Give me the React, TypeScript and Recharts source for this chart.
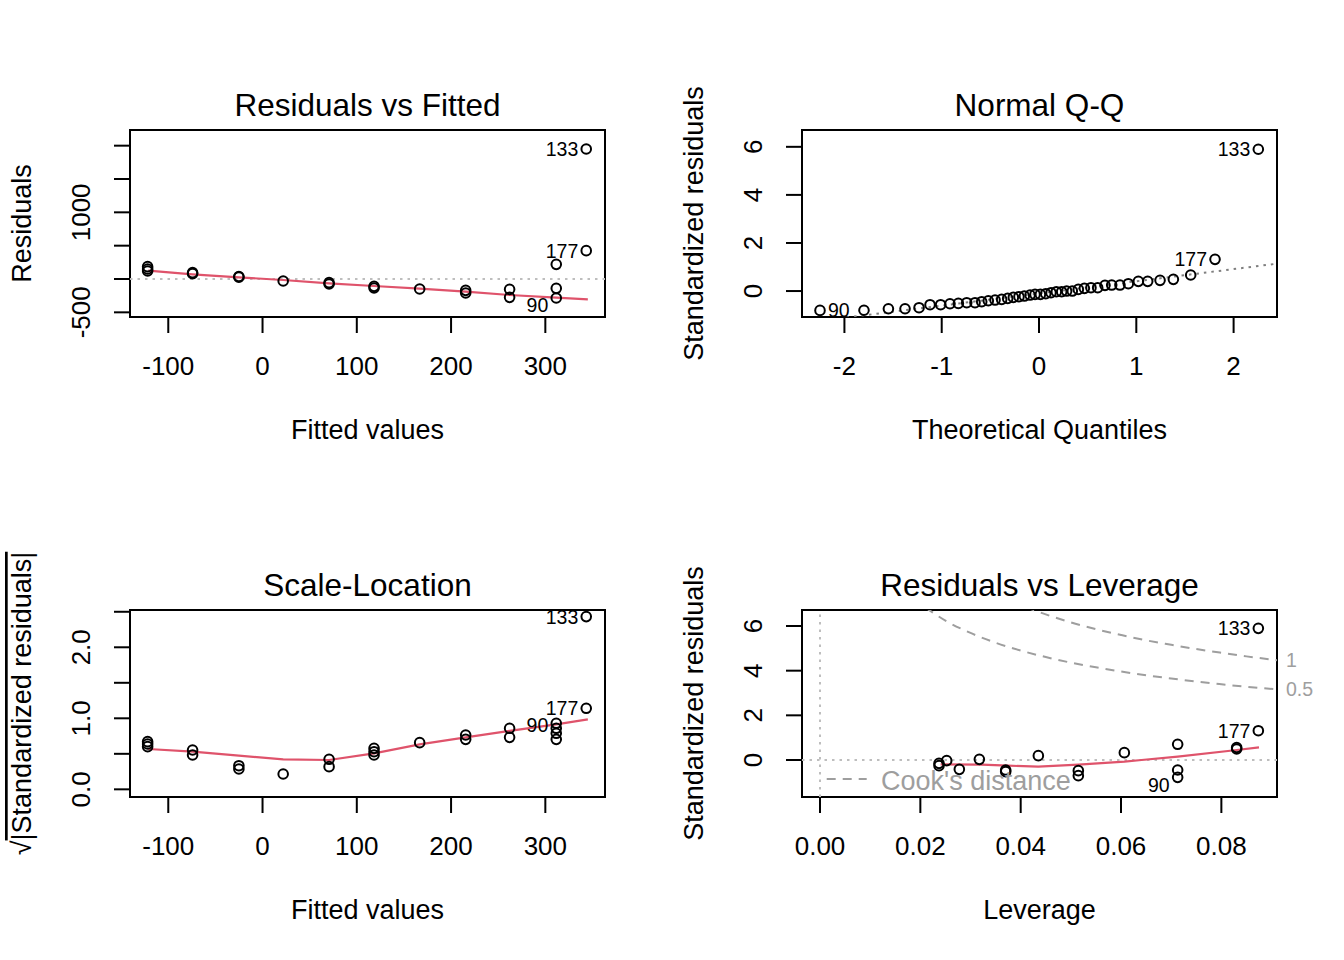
import React from 'react';
import { ComposedChart, Scatter, Line, XAxis, YAxis, ReferenceLine, ReferenceArea } from 'recharts';

const FONT = '"Liberation Sans", Arial, Helvetica, sans-serif';
const RED = '#DF536B';
const LIGHT_GRAY = '#BEBEBE';
const MID_GRAY = '#7F7F7F';
const COOK_GRAY = '#9E9E9E';

// ---------- Residuals vs Fitted ----------
const rvfFitted = [-121.9, -121.9, -121.9, -74.2, -74.2, -25.1, -25.1, 21.9, 70.6, 70.6, 118.3, 118.3, 166.7, 215.5, 215.5, 262.1, 262.1, 311.6, 311.6];
const rvfResid = [185, 150, 120, 95, 80, 37, 28, -30, -55, -75, -110, -135, -150, -170, -210, -155, -275, 220, -140];
const rvfIdFitted = [343.4, 343.4, 311.6];
const rvfIdResid = [1950, 425, -285];
const rvfSmoothX = [-121.2, -74.2, -25.1, 21.9, 70.6, 118.3, 166.7, 215.5, 262.1, 311.6, 345.1];
const rvfSmoothY = [125, 70, 25, -15, -65, -105, -145, -190, -240, -280, -305];
const rvfXTicks = [-100, 0, 100, 200, 300];
const rvfYTicks = [-500, 0, 500, 1000, 1500, 2000];
const rvfYShown = [-500, 1000];

// ---------- Normal Q-Q ----------
const qqTheo = [-1.799, -1.548, -1.377, -1.233, -1.12, -1.011, -0.915, -0.829, -0.743, -0.658, -0.589, -0.521, -0.452, -0.384, -0.322, -0.264, -0.206, -0.151, -0.092, -0.041, 0.014, 0.069, 0.123, 0.178, 0.233, 0.284, 0.342, 0.404, 0.466, 0.534, 0.603, 0.678, 0.747, 0.832, 0.918, 1.021, 1.117, 1.244, 1.381, 1.559];
const qqStd = [-0.8, -0.736, -0.736, -0.694, -0.569, -0.569, -0.528, -0.514, -0.486, -0.486, -0.444, -0.403, -0.375, -0.347, -0.306, -0.264, -0.236, -0.208, -0.167, -0.139, -0.139, -0.111, -0.069, -0.028, -0.028, 0, 0, 0.069, 0.111, 0.139, 0.139, 0.236, 0.25, 0.25, 0.306, 0.403, 0.403, 0.444, 0.486, 0.667];
const qqIdTheo = [2.254, 1.809, -2.251];
const qqIdStd = [5.9, 1.319, -0.806];
const qqLineX = [-2.436, 2.446];
const qqLineY = [-1.332, 1.139];
const qqXTicks = [-2, -1, 0, 1, 2];
const qqYTicks = [0, 2, 4, 6];

// ---------- Scale-Location ----------
const slFitted = [-121.9, -121.9, -121.9, -74.2, -74.2, -25.1, -25.1, 21.9, 70.6, 70.6, 118.3, 118.3, 118.3, 166.7, 215.5, 215.5, 262.1, 262.1, 311.6, 311.6, 311.6];
const slSqrt = [0.671, 0.638, 0.601, 0.554, 0.484, 0.333, 0.286, 0.216, 0.423, 0.319, 0.577, 0.53, 0.484, 0.657, 0.765, 0.704, 0.859, 0.732, 0.859, 0.789, 0.704];
const slIdFitted = [343.4, 343.4, 311.6];
const slIdSqrt = [2.432, 1.141, 0.93];
const slSmoothX = [-121.2, -74.2, -25.1, 21.9, 70.6, 118.3, 166.7, 215.5, 262.1, 311.6, 345.1];
const slSmoothY = [0.568, 0.531, 0.474, 0.423, 0.413, 0.507, 0.634, 0.732, 0.822, 0.915, 0.986];
const slYTicks = [0, 0.5, 1, 1.5, 2, 2.5];
const slYShown = [0, 1, 2];

// ---------- Residuals vs Leverage ----------
const lvLev = [0.02372, 0.02372, 0.02525, 0.02777, 0.03176, 0.03701, 0.03701, 0.04352, 0.05149, 0.05149, 0.06066, 0.07129, 0.07129, 0.08305, 0.08305];
const lvStd = [-0.254, -0.15, -0.03, -0.418, 0.03, -0.522, -0.448, 0.194, -0.478, -0.702, 0.328, 0.702, -0.448, 0.493, 0.56];
const lvIdLev = [0.08737, 0.08737, 0.07129];
const lvIdStd = [5.896, 1.313, -0.776];
const lvSmoothX = [0.02405, 0.0322, 0.0375, 0.0435, 0.0515, 0.0607, 0.0641, 0.0713, 0.0831, 0.0875];
const lvSmoothY = [-0.194, -0.209, -0.254, -0.299, -0.209, -0.075, 0, 0.149, 0.448, 0.567];
const cook1Lev = [0.041, 0.045, 0.05, 0.055, 0.06, 0.065, 0.07, 0.075, 0.08, 0.085, 0.0911];
const cook1Std = [6.84, 6.52, 6.16, 5.86, 5.6, 5.36, 5.16, 4.97, 4.8, 4.64, 4.47];
const cook05Lev = [0.021, 0.025, 0.03, 0.035, 0.04, 0.045, 0.05, 0.055, 0.06, 0.065, 0.07, 0.075, 0.08, 0.085, 0.0911];
const cook05Std = [6.83, 6.24, 5.69, 5.25, 4.9, 4.61, 4.36, 4.15, 3.96, 3.79, 3.65, 3.51, 3.39, 3.28, 3.16];
const cookLevels = ['1', '0.5'];
const cookLevelAt = [4.47, 3.16];
const lvXTicks = [0, 0.02, 0.04, 0.06, 0.08];
const lvYTicks = [0, 2, 4, 6];

const idLabels = ['133', '177', '90'];

// axis ranges
const rvfXDomain: [number, number] = [-140.6, 363.3];
const rvfYDomain: [number, number] = [-570, 2235];
const qqXDomain: [number, number] = [-2.436, 2.446];
const qqYDomain: [number, number] = [-1.08, 6.7];
const slYDomain: [number, number] = [-0.108, 2.525];
const lvXDomain: [number, number] = [-0.00359, 0.09109];
const lvYDomain: [number, number] = [-1.657, 6.717];

const TICK_FS = 26;
const AXIS_TITLE_FS = 27;
const TITLE_FS = 31.5;
const ID_FS = 19.5;
const PT_R = 4.8;
const PT_W = 2;

const zip = (xs: number[], ys: number[]) => xs.map((x, i) => ({ x, y: ys[i] }));
const zipId = (xs: number[], ys: number[]) => xs.map((x, i) => ({ x, y: ys[i], label: idLabels[i] }));

function makeXTick(fmt: (v: number) => string) {
  return (props: any) => {
    const { x, y, payload } = props;
    return (
      <text x={x} y={y} textAnchor="middle" fontFamily={FONT} fontSize={TICK_FS} fill="#000">
        {fmt(payload.value)}
      </text>
    );
  };
}

function makeYTick(fmt: (v: number) => string | null) {
  return (props: any) => {
    const { x, y, payload } = props;
    const s = fmt(payload.value);
    if (s === null) return <g />;
    return (
      <text x={x} y={y} transform={`rotate(-90 ${x} ${y})`} textAnchor="middle" fontFamily={FONT} fontSize={TICK_FS} fill="#000">
        {s}
      </text>
    );
  };
}

const cookTick = (props: any) => {
  const { x, y, index } = props;
  return (
    <text x={x} y={y} dominantBaseline="central" textAnchor="start" fontFamily={FONT} fontSize={ID_FS} fill={COOK_GRAY}>
      {cookLevels[index]}
    </text>
  );
};

const openCircle = (props: any) => (
  <circle cx={props.cx} cy={props.cy} r={PT_R} fill="none" stroke="#000" strokeWidth={PT_W} />
);

type LabStyle = { side: 'left' | 'right'; dy: number };
function makeIdShape(styles: Record<string, LabStyle>) {
  return (props: any) => {
    const { cx, cy, payload } = props;
    const st = styles[payload.label] || { side: 'left', dy: 0 };
    const left = st.side === 'left';
    return (
      <g>
        <circle cx={cx} cy={cy} r={PT_R} fill="none" stroke="#000" strokeWidth={PT_W} />
        <text
          x={left ? cx - 8 : cx + 8}
          y={cy + st.dy}
          dominantBaseline="central"
          textAnchor={left ? 'end' : 'start'}
          fontFamily={FONT}
          fontSize={ID_FS}
          fill="#000"
        >
          {payload.label}
        </text>
      </g>
    );
  };
}

function xAxisProps(domain: [number, number], ticks: number[], fmt: (v: number) => string) {
  return {
    type: 'number' as const,
    dataKey: 'x',
    domain,
    ticks,
    allowDataOverflow: true,
    interval: 0 as const,
    height: 163,
    tickSize: 16,
    tickMargin: 41.5,
    stroke: '#000',
    axisLine: false,
    tickLine: { stroke: '#000', strokeWidth: 2 },
    tick: makeXTick(fmt),
  };
}

function yAxisProps(domain: [number, number], ticks: number[], fmt: (v: number) => string | null) {
  return {
    type: 'number' as const,
    dataKey: 'y',
    domain,
    ticks,
    allowDataOverflow: true,
    interval: 0 as const,
    width: 130,
    tickSize: 16,
    tickMargin: 24,
    stroke: '#000',
    axisLine: false,
    tickLine: { stroke: '#000', strokeWidth: 2 },
    tick: makeYTick(fmt),
  };
}

const MARGIN = { top: 130, right: 67, bottom: 0, left: 0 };

function Overlay({ title, xTitle, yTitle, extra }: { title: string; xTitle: string; yTitle: React.ReactNode; extra?: React.ReactNode }) {
  return (
    <svg width={672} height={480} style={{ position: 'absolute', left: 0, top: 0, pointerEvents: 'none', overflow: 'visible' }}>
      <text x={367.5} y={116} textAnchor="middle" fontFamily={FONT} fontSize={TITLE_FS} fill="#000">
        {title}
      </text>
      <text x={367.5} y={439} textAnchor="middle" fontFamily={FONT} fontSize={AXIS_TITLE_FS} fill="#000">
        {xTitle}
      </text>
      <text transform="translate(31 223.5) rotate(-90)" textAnchor="middle" fontFamily={FONT} fontSize={AXIS_TITLE_FS} fill="#000">
        {yTitle}
      </text>
      {extra}
    </svg>
  );
}

function Panel1() {
  return (
    <div style={{ position: 'absolute', left: 0, top: 0, width: 672, height: 480 }}>
      <ComposedChart width={672} height={480} margin={MARGIN}>
        <XAxis {...xAxisProps(rvfXDomain, rvfXTicks, (v) => String(v))} />
        <YAxis {...yAxisProps(rvfYDomain, rvfYTicks, (v) => (rvfYShown.includes(v) ? String(v) : null))} />
        <ReferenceLine y={0} stroke={LIGHT_GRAY} strokeWidth={2} strokeDasharray="2.5 5" />
        <Scatter data={zip(rvfFitted, rvfResid)} shape={openCircle} isAnimationActive={false} />
        <Scatter data={zipId(rvfIdFitted, rvfIdResid)} shape={makeIdShape({ '90': { side: 'left', dy: 7 } })} isAnimationActive={false} />
        <Line data={zip(rvfSmoothX, rvfSmoothY)} dataKey="y" type="linear" stroke={RED} strokeWidth={2.2} dot={false} activeDot={false} isAnimationActive={false} />
        <ReferenceArea x1={rvfXDomain[0]} x2={rvfXDomain[1]} y1={rvfYDomain[0]} y2={rvfYDomain[1]} fill="none" stroke="#000" strokeWidth={2} ifOverflow="visible" />
      </ComposedChart>
      <Overlay title="Residuals vs Fitted" xTitle="Fitted values" yTitle="Residuals" />
    </div>
  );
}

function Panel2() {
  return (
    <div style={{ position: 'absolute', left: 672, top: 0, width: 672, height: 480 }}>
      <ComposedChart width={672} height={480} margin={MARGIN}>
        <XAxis {...xAxisProps(qqXDomain, qqXTicks, (v) => String(v))} />
        <YAxis {...yAxisProps(qqYDomain, qqYTicks, (v) => String(v))} />
        <Line data={zip(qqLineX, qqLineY)} dataKey="y" type="linear" stroke={MID_GRAY} strokeWidth={2} strokeDasharray="2.5 5" dot={false} activeDot={false} isAnimationActive={false} />
        <Scatter data={zip(qqTheo, qqStd)} shape={openCircle} isAnimationActive={false} />
        <Scatter data={zipId(qqIdTheo, qqIdStd)} shape={makeIdShape({ '90': { side: 'right', dy: 0 } })} isAnimationActive={false} />
        <ReferenceArea x1={qqXDomain[0]} x2={qqXDomain[1]} y1={qqYDomain[0]} y2={qqYDomain[1]} fill="none" stroke="#000" strokeWidth={2} ifOverflow="visible" />
      </ComposedChart>
      <Overlay title="Normal Q-Q" xTitle="Theoretical Quantiles" yTitle="Standardized residuals" />
    </div>
  );
}

function Panel3() {
  const sqrtTitle = (
    <>
      <tspan>√</tspan>
      <tspan textDecoration="overline">|Standardized residuals|</tspan>
    </>
  );
  return (
    <div style={{ position: 'absolute', left: 0, top: 480, width: 672, height: 480 }}>
      <ComposedChart width={672} height={480} margin={MARGIN}>
        <XAxis {...xAxisProps(rvfXDomain, rvfXTicks, (v) => String(v))} />
        <YAxis {...yAxisProps(slYDomain, slYTicks, (v) => (slYShown.includes(v) ? v.toFixed(1) : null))} />
        <Scatter data={zip(slFitted, slSqrt)} shape={openCircle} isAnimationActive={false} />
        <Scatter data={zipId(slIdFitted, slIdSqrt)} shape={makeIdShape({ '90': { side: 'left', dy: 2 } })} isAnimationActive={false} />
        <Line data={zip(slSmoothX, slSmoothY)} dataKey="y" type="linear" stroke={RED} strokeWidth={2.2} dot={false} activeDot={false} isAnimationActive={false} />
        <ReferenceArea x1={rvfXDomain[0]} x2={rvfXDomain[1]} y1={slYDomain[0]} y2={slYDomain[1]} fill="none" stroke="#000" strokeWidth={2} ifOverflow="visible" />
      </ComposedChart>
      <Overlay title="Scale-Location" xTitle="Fitted values" yTitle={sqrtTitle} />
    </div>
  );
}

function Panel4() {
  const legend = (
    <g>
      <line x1={154.7} y1={299} x2={194.7} y2={299} stroke={COOK_GRAY} strokeWidth={2} strokeDasharray="9 7" />
      <text x={209} y={309.5} fontFamily={FONT} fontSize={AXIS_TITLE_FS} fill={COOK_GRAY}>
        Cook's distance
      </text>
    </g>
  );
  return (
    <div style={{ position: 'absolute', left: 672, top: 480, width: 672, height: 480 }}>
      <ComposedChart width={672} height={480} margin={{ top: 130, right: 0, bottom: 0, left: 0 }}>
        <XAxis {...xAxisProps(lvXDomain, lvXTicks, (v) => v.toFixed(2))} />
        <YAxis {...yAxisProps(lvYDomain, lvYTicks, (v) => String(v))} />
        <YAxis
          yAxisId="cook"
          orientation="right"
          type="number"
          domain={lvYDomain}
          ticks={cookLevelAt}
          allowDataOverflow
          interval={0}
          width={67}
          tickSize={0}
          tickMargin={9}
          axisLine={false}
          tickLine={false}
          tick={cookTick}
        />
        <ReferenceLine y={0} stroke={LIGHT_GRAY} strokeWidth={2} strokeDasharray="2.5 5" />
        <ReferenceLine x={0} stroke={LIGHT_GRAY} strokeWidth={2} strokeDasharray="2.5 5" />
        <Line data={zip(cook1Lev, cook1Std)} dataKey="y" type="monotone" stroke={COOK_GRAY} strokeWidth={2} strokeDasharray="9 7" dot={false} activeDot={false} isAnimationActive={false} />
        <Line data={zip(cook05Lev, cook05Std)} dataKey="y" type="monotone" stroke={COOK_GRAY} strokeWidth={2} strokeDasharray="9 7" dot={false} activeDot={false} isAnimationActive={false} />
        <Scatter data={zip(lvLev, lvStd)} shape={openCircle} isAnimationActive={false} />
        <Scatter data={zipId(lvIdLev, lvIdStd)} shape={makeIdShape({ '90': { side: 'left', dy: 8 } })} isAnimationActive={false} />
        <Line data={zip(lvSmoothX, lvSmoothY)} dataKey="y" type="linear" stroke={RED} strokeWidth={2.2} dot={false} activeDot={false} isAnimationActive={false} />
        <ReferenceArea x1={lvXDomain[0]} x2={lvXDomain[1]} y1={lvYDomain[0]} y2={lvYDomain[1]} fill="none" stroke="#000" strokeWidth={2} ifOverflow="visible" />
      </ComposedChart>
      <Overlay title="Residuals vs Leverage" xTitle="Leverage" yTitle="Standardized residuals" extra={legend} />
    </div>
  );
}

export default function App() {
  return (
    <div style={{ position: 'absolute', left: 0, top: 0, width: 1344, height: 960, background: '#fff', fontFamily: FONT }}>
      <Panel1 />
      <Panel2 />
      <Panel3 />
      <Panel4 />
    </div>
  );
}
